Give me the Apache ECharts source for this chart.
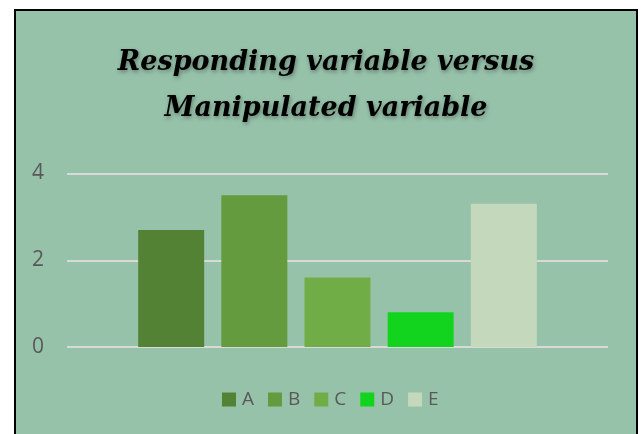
<!DOCTYPE html>
<html><head><meta charset="utf-8">
<script src="https://cdn.jsdelivr.net/npm/echarts@6/dist/echarts.min.js"></script>
<style>
html,body{margin:0;padding:0;background:#fff;overflow:hidden;width:641px;height:434px;}
#c{position:absolute;left:14px;top:9px;width:620px;height:440px;border:2px solid #000;background:#97C2AA;}
</style></head><body>
<div id="c"></div>
<script>
const titleLines = ['Responding variable versus', 'Manipulated variable'];
const category = [''];
const seriesNames = ['A', 'B', 'C', 'D', 'E'];
const seriesValues = [2.7, 3.5, 1.6, 0.8, 3.3];
const colors = ['#548235', '#639B3E', '#70AD47', '#12D41E', '#C4D8BB'];
const yTicks = {min: 0, max: 4, interval: 2};

const chart = echarts.init(document.getElementById('c'), null, {renderer: 'canvas'});
chart.setOption({
  backgroundColor: 'transparent',
  animation: false,
  title: {
    text: titleLines.join('\n'),
    left: 'center', top: 24,
    textStyle: {
      fontFamily: 'DejaVu Serif', fontStyle: 'italic', fontWeight: 'bold',
      fontSize: 27, lineHeight: 46, color: '#000',
      textShadowColor: 'rgba(0,0,0,0.35)', textShadowBlur: 4, textShadowOffsetX: 1, textShadowOffsetY: 2
    }
  },
  legend: {
    data: seriesNames,
    top: 374, left: 201,
    itemWidth: 14, itemHeight: 14, itemGap: 14,
    icon: 'rect',
    textStyle: {fontFamily: 'Open Sans', fontSize: 19, color: '#595959', padding: [0, 0, 0, 1]}
  },
  grid: {left: 51, top: 162.5, width: 541, height: 173.5, containLabel: false},
  xAxis: {
    type: 'category', data: category,
    axisLine: {show: false}, axisTick: {show: false}, axisLabel: {show: false}
  },
  yAxis: {
    type: 'value', min: yTicks.min, max: yTicks.max, interval: yTicks.interval,
    axisLine: {show: false}, axisTick: {show: false},
    axisLabel: {fontFamily: 'Open Sans', fontSize: 21, color: '#595959', margin: 23, padding: [3, 0, 0, 0]},
    splitLine: {lineStyle: {color: '#D9D9D9', width: 2}}
  },
  series: seriesNames.map((n, i) => ({
    name: n, type: 'bar', data: [seriesValues[i]],
    barWidth: 66, barGap: '26%',
    itemStyle: {color: colors[i]}
  }))
});
</script>
</body></html>
